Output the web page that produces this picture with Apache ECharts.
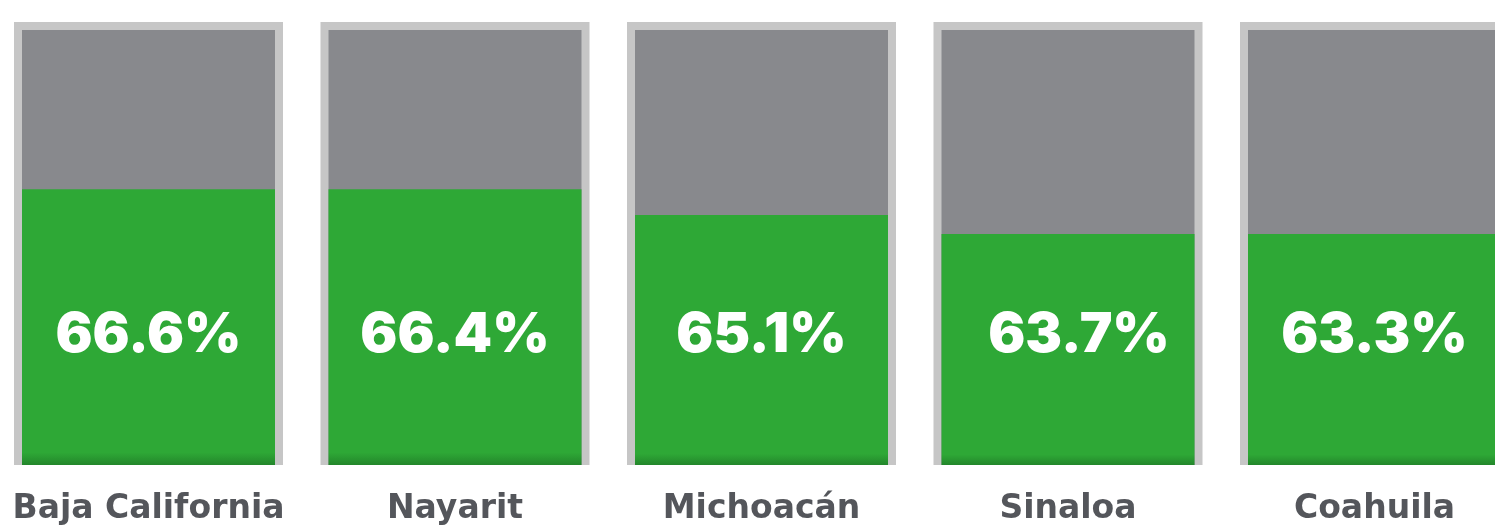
<!DOCTYPE html>
<html>
<head>
<meta charset="utf-8">
<script src="https://cdn.jsdelivr.net/npm/echarts@6/dist/echarts.min.js"></script>
<style>
  html, body { margin: 0; padding: 0; background: #fff; }
  #chart { width: 1495px; height: 530px; }
</style>
</head>
<body>
<div id="chart"></div>
<script>
// estados
var categories = ["Baja California", "Nayarit", "Michoacán", "Sinaloa", "Coahuila"];
// porcentaje mostrado en cada barra
var values = [66.6, 66.4, 65.1, 63.7, 63.3];
// altura del relleno verde (% del rectángulo gris)
var fillShare = [63.4, 63.4, 57.5, 53.1, 53.1];
// rectángulo gris = 100, marco algo más alto
var innerFull = [100, 100, 100, 100, 100];
var frameFull = [101.84, 101.84, 101.84, 101.84, 101.84];

var myChart = echarts.init(document.getElementById("chart"));

function catAxis(show) {
  return {
    type: "category",
    data: categories,
    show: show,
    axisLine: { show: false },
    axisTick: { show: false },
    axisLabel: {
      show: show,
      interval: 0,
      color: "#54565b",
      fontFamily: "DejaVu Sans",
      fontWeight: "bold",
      fontSize: 33,
      lineHeight: 34,
      margin: 27,
    },
  };
}

var option = {
  animation: false,
  grid: {
    left: -4.75,
    width: 1532.5,
    top: 22,
    bottom: 65,
    outerBoundsMode: "none",
  },
  xAxis: [catAxis(true), catAxis(false), catAxis(false)],
  yAxis: {
    type: "value",
    min: 0,
    max: 101.84,
    show: false,
  },
  series: [
    {
      // marco claro
      type: "bar",
      xAxisIndex: 0,
      data: frameFull,
      barWidth: 269,
      itemStyle: { color: "#c6c6c6" },
      silent: true,
    },
    {
      // fondo gris
      type: "bar",
      xAxisIndex: 1,
      data: innerFull,
      barWidth: 253,
      itemStyle: { color: "#88898d" },
      silent: true,
    },
    {
      // relleno verde
      type: "bar",
      xAxisIndex: 2,
      barWidth: 253,
      data: fillShare.map(function (v, i) {
        var item = { value: v };
        if (i === 3) item.label = { offset: [11, 0] };
        return item;
      }),
      itemStyle: {
        color: new echarts.graphic.LinearGradient(0, 0, 0, 1, [
          { offset: 0, color: "#2ea836" },
          { offset: 0.955, color: "#2ea836" },
          { offset: 1, color: "#23862b" },
        ]),
      },
      label: {
        show: true,
        position: "insideBottom",
        distance: 105,
        color: "#ffffff",
        fontFamily: "Inter",
        fontWeight: 900,
        fontSize: 55,
        lineHeight: 50,
        formatter: function (p) {
          return values[p.dataIndex].toFixed(1) + "%";
        },
      },
    },
  ],
};

myChart.setOption(option);
window.addEventListener("resize", () => {
  myChart.resize();
});
</script>
</body>
</html>
